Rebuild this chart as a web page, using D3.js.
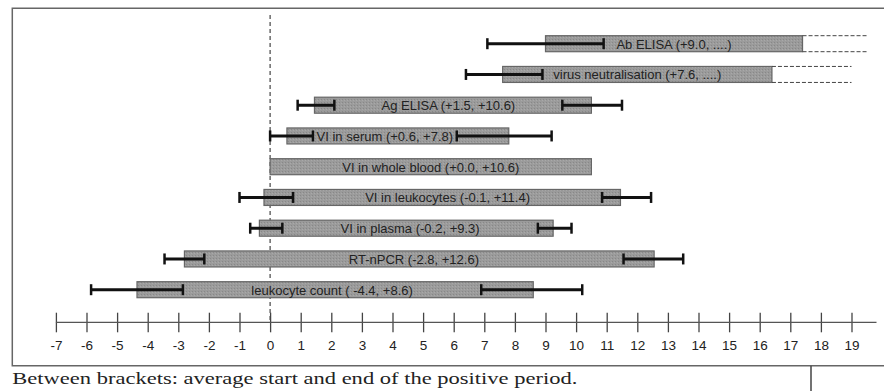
<!DOCTYPE html>
<html>
<head>
<meta charset="utf-8">
<script src="https://cdn.jsdelivr.net/npm/d3@7"></script>
<style>
  body { margin: 0; background: #fff; }
  svg { display: block; }
</style>
</head>
<body>
<svg id="chart" width="884" height="391"></svg>
<script>
// rows, top to bottom
const labels = ["Ab ELISA (+9.0, ....)", "virus neutralisation (+7.6, ....)", "Ag ELISA (+1.5, +10.6)",
  "VI in serum (+0.6, +7.8)", "VI in whole blood (+0.0, +10.6)", "VI in leukocytes (-0.1, +11.4)",
  "VI in plasma (-0.2, +9.3)", "RT-nPCR (-2.8, +12.6)", "leukocyte count ( -4.4, +8.6)"];
const starts = [9.0, 7.6, 1.45, 0.55, 0.0, -0.2, -0.35, -2.8, -4.35];
const ends = [17.4, 16.4, 10.5, 7.8, 10.5, 11.45, 9.25, 12.55, 8.6];
const openEnds = [19.55, 19.0, null, null, null, null, null, null, null];
const startLo = [7.1, 6.4, 0.9, 0.0, null, -1.0, -0.65, -3.45, -5.85];
const startHi = [10.9, 8.9, 2.1, 1.4, null, 0.75, 0.4, -2.15, -2.85];
const endLo = [null, null, 9.55, 6.1, null, 10.85, 8.75, 11.55, 6.9];
const endHi = [null, null, 11.5, 9.2, null, 12.45, 9.85, 13.5, 10.2];
const days = d3.range(-7, 20);
const footer = "Between brackets: average start and end of the positive period.";

const rows = labels.map((l, i) => ({
  label: l, start: starts[i], end: ends[i], open: openEnds[i],
  sLo: startLo[i], sHi: startHi[i], eLo: endLo[i], eHi: endHi[i]
}));

const svg = d3.select("#chart");
const bar_h = 16;
const axis_y = 322.3;

const x = d3.scaleLinear().domain([-7, 19]).range([55.9, 851.5]);
const y = d3.scalePoint().domain(labels).range([43.7, 289.7]);

// stipple fill
const pat = svg.append("defs").append("pattern")
  .attr("id", "stip").attr("width", 3).attr("height", 3)
  .attr("patternUnits", "userSpaceOnUse");
pat.append("rect").attr("width", 3).attr("height", 3).attr("fill", "#9b9b9b");
pat.append("rect").attr("x", 0).attr("y", 0).attr("width", 1).attr("height", 1).attr("fill", "#888");
pat.append("rect").attr("x", 2).attr("y", 1).attr("width", 1).attr("height", 1).attr("fill", "#a9a9a9");

// frame
svg.append("path")
  .attr("d", "M884,8.3H12.3V365.7H884")
  .attr("fill", "none").attr("stroke", "#666").attr("stroke-width", 1.5);
svg.append("line")
  .attr("x1", 811).attr("x2", 811).attr("y1", 365.7).attr("y2", 391)
  .attr("stroke", "#444").attr("stroke-width", 1.5);

// zero line
svg.append("line")
  .attr("x1", x(0)).attr("x2", x(0)).attr("y1", 15).attr("y2", axis_y)
  .attr("stroke", "#444").attr("stroke-width", 1.2).attr("stroke-dasharray", "4,3");

// axis
const axis = svg.append("g")
  .attr("transform", `translate(0,${axis_y})`)
  .call(d3.axisBottom(x).tickValues(days).tickSize(10).tickFormat(d => String(d)));
axis.select(".domain").remove();
axis.append("line")
  .attr("x1", x(-7)).attr("x2", x(19) + 25)
  .attr("stroke", "#555").attr("stroke-width", 1.2);
axis.selectAll(".tick line").attr("y1", -9.6).attr("y2", 10).attr("stroke", "#444").attr("stroke-width", 1.3);
axis.selectAll(".tick text")
  .attr("y", 27.5).attr("dy", null)
  .attr("fill", "#222")
  .style("font-family", "'Liberation Sans', Arial, sans-serif")
  .style("font-size", "13.5px");

// bars
const g = svg.selectAll(".row").data(rows).enter().append("g").attr("class", "row");

g.append("rect")
  .attr("x", d => x(d.start))
  .attr("y", d => y(d.label) - bar_h / 2)
  .attr("width", d => x(d.end) - x(d.start))
  .attr("height", bar_h)
  .attr("fill", "url(#stip)")
  .attr("stroke", "#666").attr("stroke-width", 1.2);

// open-ended dashed extensions
const open = g.filter(d => d.open != null);
[-bar_h / 2, bar_h / 2].forEach(off => {
  open.append("line")
    .attr("x1", d => x(d.end)).attr("x2", d => x(d.open))
    .attr("y1", d => y(d.label) + off).attr("y2", d => y(d.label) + off)
    .attr("stroke", "#444").attr("stroke-width", 1).attr("stroke-dasharray", "4,2");
});

// label centred on bar, or between the error bars when both ends have one
g.append("text")
  .attr("x", d => {
    if (d.sHi != null && d.eLo != null) return (x(Math.max(d.start, d.sHi)) + x(Math.min(d.end, d.eLo))) / 2;
    return (x(d.start) + x(d.end)) / 2;
  })
  .attr("y", d => y(d.label) + 4.8)
  .attr("text-anchor", "middle")
  .attr("fill", "#222")
  .style("font-family", "'Liberation Sans', Arial, sans-serif")
  .style("font-size", "13px")
  .text(d => d.label);

// error bars on start and end
function errbar(sel, lo, hi) {
  const e = sel.filter(d => d[lo] != null);
  e.append("line")
    .attr("x1", d => x(d[lo])).attr("x2", d => x(d[hi]))
    .attr("y1", d => y(d.label)).attr("y2", d => y(d.label))
    .attr("stroke", "#111").attr("stroke-width", 3);
  [lo, hi].forEach(k => {
    e.append("line")
      .attr("x1", d => x(d[k])).attr("x2", d => x(d[k]))
      .attr("y1", d => y(d.label) - 5.5).attr("y2", d => y(d.label) + 5.5)
      .attr("stroke", "#111").attr("stroke-width", 2.5);
  });
}
errbar(g, "sLo", "sHi");
errbar(g, "eLo", "eHi");

// footnote
svg.append("text")
  .attr("x", 12.3).attr("y", 383.5)
  .attr("textLength", 565).attr("lengthAdjust", "spacingAndGlyphs")
  .attr("fill", "#222")
  .style("font-family", "'Liberation Serif', 'Times New Roman', serif")
  .style("font-size", "17.5px")
  .text(footer);
</script>
</body>
</html>
